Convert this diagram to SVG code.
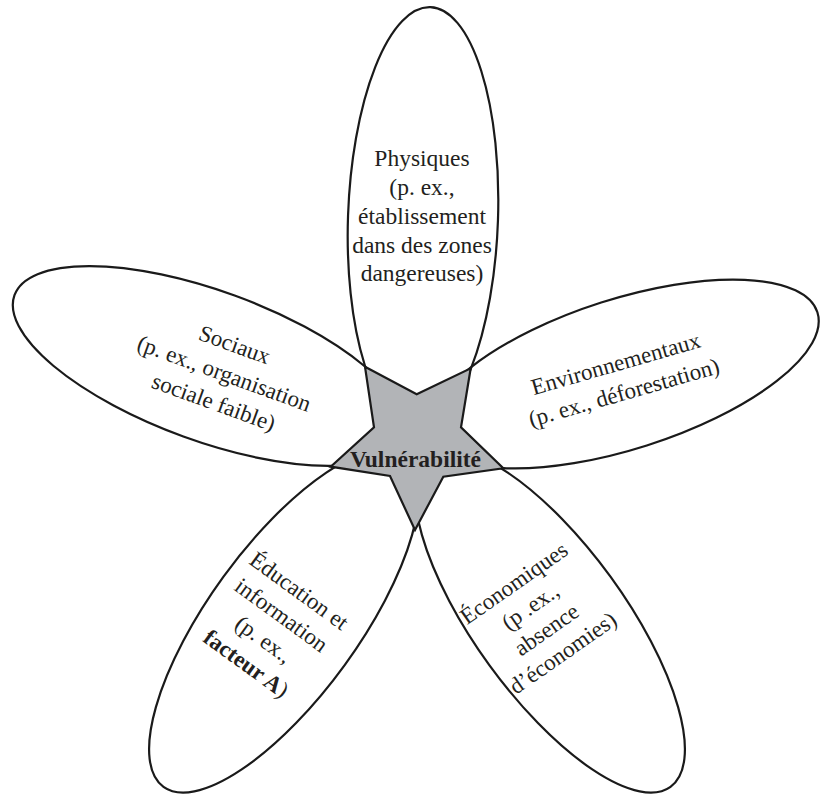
<svg xmlns="http://www.w3.org/2000/svg" width="820" height="797" viewBox="0 0 820 797">
<style>
.petal{fill:none;stroke:#1a1a1a;stroke-width:2.2}
.star{fill:#b2b4b7;stroke:#1a1a1a;stroke-width:2.2;stroke-linejoin:miter}
.lbl{font-family:"Liberation Serif","Times New Roman",serif;font-size:23px;fill:#231f20;text-anchor:middle}
.b{font-weight:bold}
</style>
<rect width="820" height="797" fill="#ffffff"/>
<g id="physiques">
<ellipse class="petal" cx="423" cy="218" rx="75" ry="211" transform="rotate(2 423 218)"/>
<text class="lbl" style="font-size:23.5px" x="422"><tspan x="422" y="166">Physiques</tspan><tspan x="422" y="195">(p. ex.,</tspan><tspan x="422" y="224">établissement</tspan><tspan x="422" y="252.5">dans des zones</tspan><tspan x="422" y="281">dangereuses)</tspan></text>
</g>
<g id="sociaux">
<ellipse class="petal" cx="209" cy="366" rx="207" ry="75" transform="rotate(20 209 366)"/>
<g transform="translate(224 374) rotate(20)"><text class="lbl"><tspan x="0" y="-23.6">Sociaux</tspan><tspan x="0" y="7">(p. ex., organisation</tspan><tspan x="0" y="37.6">sociale faible)</tspan></text></g>
</g>
<g id="environnementaux">
<ellipse class="petal" cx="624" cy="374" rx="203" ry="75" transform="rotate(-17.7 624 374)"/>
<g transform="translate(620 378.7) rotate(-16)"><text class="lbl"><tspan x="0" y="-8">Environnementaux</tspan><tspan x="0" y="22">(p. ex., déforestation)</tspan></text></g>
</g>
<g id="economiques">
<ellipse class="petal" cx="550" cy="621" rx="205" ry="75" transform="rotate(54 550 621)"/>
<g transform="translate(538.8 618.6) rotate(-35)"><text class="lbl"><tspan x="0" y="-35.7">Économiques</tspan><tspan x="0" y="-7.3">(p .ex.,</tspan><tspan x="0" y="21.1">absence</tspan><tspan x="0" y="49.5">d’économies)</tspan></text></g>
</g>
<g id="education">
<ellipse class="petal" cx="284" cy="621" rx="205" ry="75" transform="rotate(126 284 621)"/>
<g transform="translate(272.3 627.7) rotate(36)"><text class="lbl"><tspan x="0" y="-38">Éducation et</tspan><tspan x="0" y="-8">information</tspan><tspan x="0" y="22">(p. ex.,</tspan><tspan x="0" y="52"><tspan class="b">facteur A</tspan>)</tspan></text></g>
</g>
<g id="connectors"></g>
<g id="vulnerabilite">
<polygon class="star" points="365,366.7 416.7,394.3 470.7,368.3 461,427.3 503.3,468.3 443.3,476.7 415,530 390,476 330.7,466.7 374,427.3"/>
<text class="lbl b" style="font-size:23.5px" x="415.5" y="466.5">Vulnérabilité</text>
</g>
</svg>
